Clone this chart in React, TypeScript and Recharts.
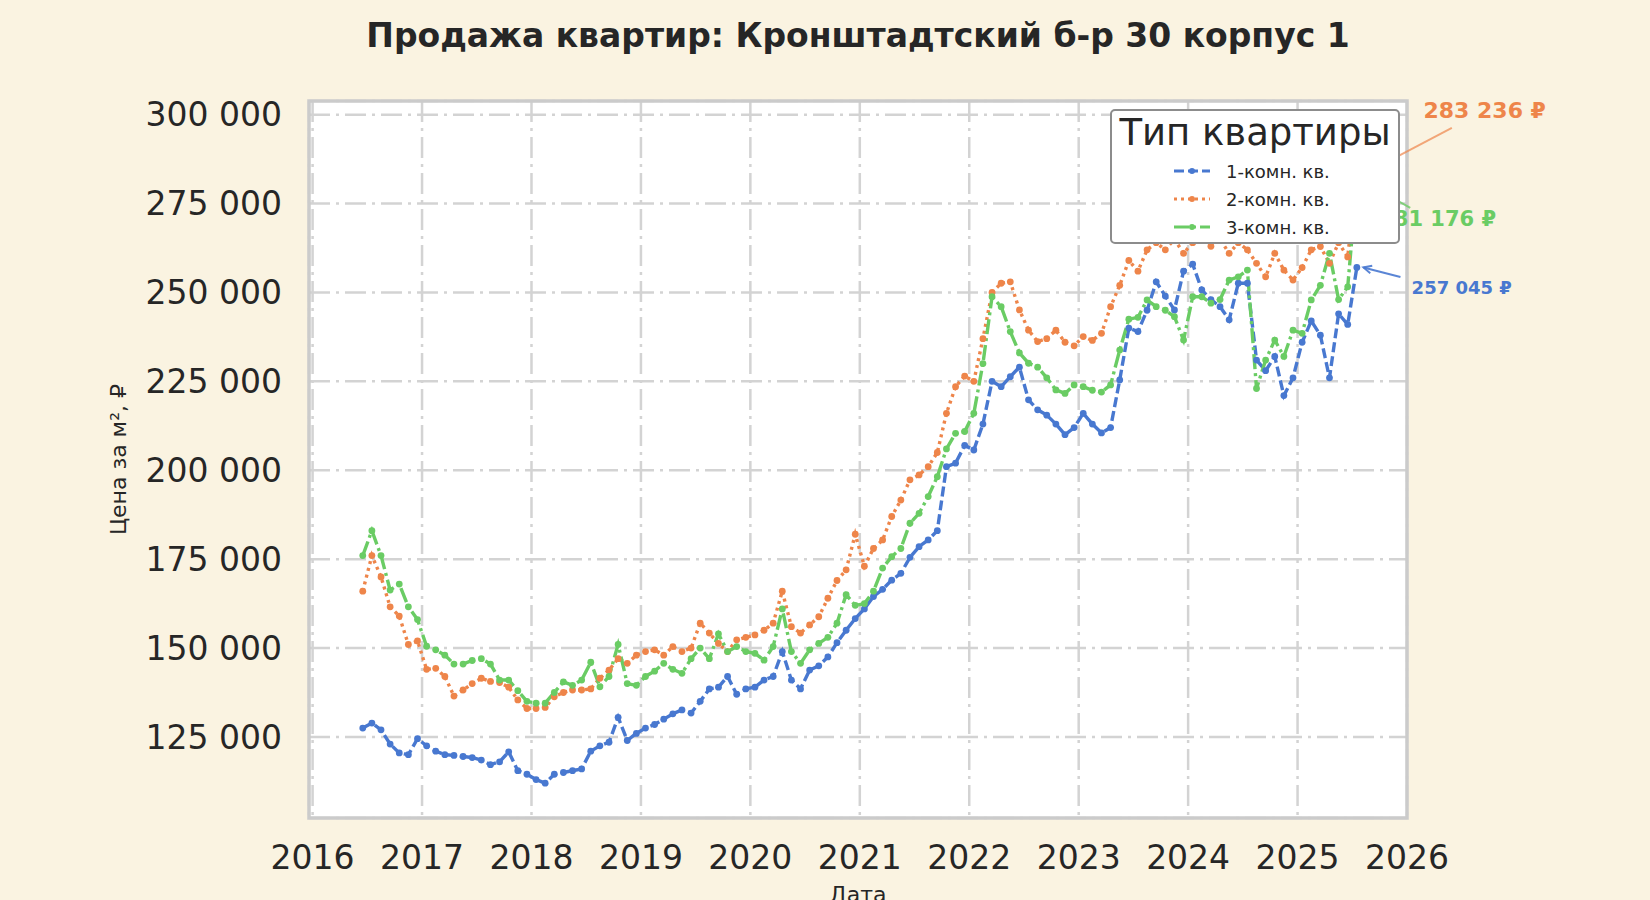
import {
  LineChart,
  Line,
  XAxis,
  YAxis,
  CartesianGrid,
  ReferenceArea,
  ReferenceLine,
  ReferenceDot,
  Label,
} from "recharts";

// monthly prices per m², first value = June 2016
const START_YEAR = 2016;
const START_MONTH = 6;

const oneRoomPrices = [
  127500, 128900, 127000, 123000, 120500, 120000, 124500,
  122500, 121000, 120000, 119800, 119500, 119200, 118500, 117200, 118000, 120800, 115500, 114500,
  113000, 112000, 114500, 115000, 115500, 116000, 121000, 122500, 123500, 130500, 124000, 126000,
  127500, 128500, 130000, 131500, 132600, 131700, 135000, 138500, 139000, 142000, 137000, 138500,
  139000, 141000, 142000, 149000, 141000, 138500, 143800, 145000, 147500, 151500, 155000, 158300,
  161000, 164500, 166500, 169100, 171000, 175500, 178500, 180400, 183000, 201000, 202000, 207000,
  205700, 213000, 225000, 223500, 226300, 229000, 219800, 217000, 215500, 213000, 210000, 212000,
  216000, 213000, 210500, 212000, 225400, 240000, 239000, 245000, 253000, 249000, 245100, 256000,
  258000, 250700, 248000, 246000, 242300, 252600, 252600, 231000, 228000, 232000, 221000, 226000,
  236000, 242000, 238000, 226000, 244000, 241000, 257045,
];

const twoRoomPrices = [
  166000, 176000, 170000, 161600, 159000, 151000, 152000,
  144000, 144300, 142000, 136500, 138200, 140000, 141500, 140600, 140300, 139000, 135400, 133000,
  133000, 133300, 136300, 137500, 138200, 138200, 138500, 141500, 143800, 147000, 145700, 148000,
  149000, 149500, 148000, 150400, 149000, 150000, 157000, 154200, 151300, 149000, 152300, 153000,
  153700, 155000, 157000, 166000, 156000, 154200, 156500, 158800, 164000, 169000, 172000, 182000,
  173000, 178000, 180400, 187000, 191600, 197300, 198700, 201000, 205000, 216000, 223500, 226500,
  225000, 237000, 250000, 252600, 253000, 245100, 239400, 236200, 237000, 239400, 236000, 235000,
  237600, 236500, 238500, 246000, 252000, 259000, 256000, 262000, 264000, 262000, 265000, 261000,
  264000, 266000, 263000, 265000, 261000, 264000, 262000, 258200, 254400, 261000, 256300, 253500,
  257000, 262000, 262900, 258200, 264000, 260000, 283236,
];

const threeRoomPrices = [
  176000, 183000, 176000, 166300, 168000, 161600, 158000,
  150500, 149500, 148000, 145500, 145500, 146500, 147000, 145500, 141000, 141000, 138000, 135000,
  134500, 134500, 137500, 140500, 139500, 141000, 146000, 139100, 142000, 151000, 140000, 139500,
  142000, 143500, 145700, 144000, 142900, 147000, 150000, 147000, 154000, 149000, 150400, 149000,
  148500, 146600, 150400, 161000, 149000, 145700, 149500, 151300, 153000, 157000, 165000, 162000,
  162500, 166000, 172500, 175700, 178000, 185100, 187900, 192600, 198200, 206000, 210400, 210900,
  216000, 230000, 248800, 246000, 239000, 233000, 230100, 229000, 226000, 222600, 221600, 224000,
  223500, 222500, 222000, 224000, 233800, 242500, 243000, 247900, 246000, 245000, 243200, 236600,
  248800, 248800, 247000, 248000, 253500, 254400, 256300, 223000, 231000, 236600, 232000, 239400,
  238500, 247900, 252000, 261000, 248000, 251600, 281176,
];

const yearTicks = [2016, 2017, 2018, 2019, 2020, 2021, 2022, 2023, 2024, 2025, 2026];
const priceTicks = [125000, 150000, 175000, 200000, 225000, 250000, 275000, 300000];

const TITLE = "Продажа квартир: Кронштадтский б-р 30 корпус 1";
const LEGEND_TITLE = "Тип квартиры";

const BLUE = "#4878D0";
const ORANGE = "#EE854A";
const GREEN = "#6ACC64";
const INK = "#262626";
const FONT = "'DejaVu Sans', sans-serif";

const X_DOMAIN: [number, number] = [2015.967, 2026.0];
const Y_DOMAIN: [number, number] = [102200, 303850];

const chartData = oneRoomPrices.map((one, i) => {
  const m = START_MONTH - 1 + i;
  return {
    date: START_YEAR + Math.floor(m / 12) + ((m % 12) + 0.5) / 12,
    one,
    two: twoRoomPrices[i],
    three: threeRoomPrices[i],
  };
});

const last = chartData[chartData.length - 1];

const fmt = (v: number) => String(v).replace(/\B(?=(\d{3})+(?!\d))/g, " ");

const series = [
  { key: "one", name: "1-комн. кв.", color: BLUE, dash: "10 4" },
  { key: "two", name: "2-комн. кв.", color: ORANGE, dash: "3 4" },
  { key: "three", name: "3-комн. кв.", color: GREEN, dash: "15 4 3 4" },
];

// labels for the last value of each series (text position in data units)
const annotations = [
  { key: "two", color: ORANGE, size: 22, text: [2026.71, 301200], from: [2026.41, 296300], opacity: 0.7, arrow: false },
  { key: "three", color: GREEN, size: 21, text: [2026.28, 270700], from: [2026.03, 273800], opacity: 0.8, arrow: false },
  { key: "one", color: BLUE, size: 18, text: [2026.5, 251260], from: [2025.94, 254350], opacity: 0.9, arrow: true },
];

function ArrowShape(props: any) {
  const { x1, y1, x2, y2, stroke, strokeWidth, strokeOpacity } = props;
  const a = Math.atan2(y2 - y1, x2 - x1);
  const len = 9;
  const p1 = [x2 - len * Math.cos(a - 0.45), y2 - len * Math.sin(a - 0.45)];
  const p2 = [x2 - len * Math.cos(a + 0.45), y2 - len * Math.sin(a + 0.45)];
  return (
    <g stroke={stroke} strokeWidth={strokeWidth} strokeOpacity={strokeOpacity} fill="none">
      <line x1={x1} y1={y1} x2={x2} y2={y2} />
      <polyline points={`${p1[0]},${p1[1]} ${x2},${y2} ${p2[0]},${p2[1]}`} />
    </g>
  );
}

function LegendBox() {
  return (
    <div
      style={{
        position: "absolute",
        left: 1110,
        top: 109,
        width: 290,
        height: 135,
        boxSizing: "border-box",
        background: "#FFFFFF",
        border: "2.5px solid #8C8C8C",
        borderRadius: 5,
        fontFamily: FONT,
        color: INK,
      }}
    >
      <div
        style={{
          position: "absolute",
          left: 0,
          right: 0,
          top: 0,
          textAlign: "center",
          fontSize: 37,
          lineHeight: "44px",
        }}
      >
        {LEGEND_TITLE}
      </div>
      {series.map((s, i) => (
        <div
          key={s.key}
          style={{
            position: "absolute",
            left: 60,
            top: 46 + i * 28,
            height: 28,
            display: "flex",
            alignItems: "center",
            fontSize: 18,
          }}
        >
          <svg width={40} height={12} style={{ marginRight: 14 }}>
            <line
              x1={2}
              y1={6}
              x2={38}
              y2={6}
              stroke={s.color}
              strokeWidth={3}
              strokeDasharray={s.dash}
            />
            <circle cx={20} cy={6} r={3} fill={s.color} />
          </svg>
          <span>{s.name}</span>
        </div>
      ))}
    </div>
  );
}

export default function App() {
  return (
    <div
      style={{
        position: "absolute",
        left: 0,
        top: 0,
        width: 1650,
        height: 900,
        background: "#FAF3E1",
        fontFamily: FONT,
        overflow: "hidden",
      }}
    >
      <div
        style={{
          position: "absolute",
          left: 309,
          width: 1098,
          top: 14,
          textAlign: "center",
          fontSize: 33,
          fontWeight: "bold",
          color: INK,
          lineHeight: "44px",
        }}
      >
        {TITLE}
      </div>

      <LineChart
        width={1650}
        height={900}
        data={chartData}
        margin={{ top: 101, right: 243, bottom: 0, left: 0 }}
      >
        <CartesianGrid
          stroke="#D3D3D3"
          strokeWidth={2.5}
          strokeDasharray="21 6 3 6"
          fill="#FFFFFF"
        />
        <XAxis
          dataKey="date"
          type="number"
          domain={X_DOMAIN}
          ticks={yearTicks}
          allowDataOverflow
          height={82}
          axisLine={false}
          tickLine={false}
          tickSize={0}
          tickMargin={28}
          tick={{ fontSize: 33, fill: INK }}
        >
          <Label
            value="Дата"
            position="insideBottom"
            offset={-2}
            style={{ fontSize: 22, fill: INK }}
          />
        </XAxis>
        <YAxis
          type="number"
          domain={Y_DOMAIN}
          ticks={priceTicks}
          allowDataOverflow
          width={309}
          axisLine={false}
          tickLine={false}
          tickSize={0}
          tickMargin={27}
          tickFormatter={fmt}
          tick={{ fontSize: 33, fill: INK }}
        >
          <Label
            value="Цена за м², ₽"
            angle={-90}
            position="center"
            dx={-36}
            style={{ fontSize: 22, fill: INK, textAnchor: "middle" }}
          />
        </YAxis>

        {series.map((s) => (
          <Line
            key={s.key}
            dataKey={s.key}
            name={s.name}
            type="linear"
            stroke={s.color}
            strokeWidth={3.4}
            strokeDasharray={s.dash}
            dot={{ r: 3.4, fill: s.color, strokeWidth: 0 }}
            activeDot={false}
            isAnimationActive={false}
          />
        ))}

        <ReferenceArea
          x1={X_DOMAIN[0]}
          x2={X_DOMAIN[1]}
          y1={Y_DOMAIN[0]}
          y2={Y_DOMAIN[1]}
          fill="none"
          stroke="#CBCBCB"
          strokeWidth={3.5}
          ifOverflow="visible"
        />

        {annotations.map((a) => {
          const v = (last as any)[a.key] as number;
          return (
            <ReferenceLine
              key={`l-${a.key}`}
              ifOverflow="visible"
              segment={[
                { x: a.from[0], y: a.from[1] },
                { x: last.date + 0.06, y: v },
              ]}
              stroke={a.color}
              strokeWidth={2}
              strokeOpacity={a.opacity}
              shape={a.arrow ? ArrowShape : undefined}
            />
          );
        })}
        {annotations.map((a) => {
          const v = (last as any)[a.key] as number;
          return (
            <ReferenceDot
              key={`t-${a.key}`}
              x={a.text[0]}
              y={a.text[1]}
              r={0}
              ifOverflow="visible"
              label={{
                value: `${fmt(v)} ₽`,
                position: "center",
                fill: a.color,
                fontSize: a.size,
                fontWeight: "bold",
              }}
            />
          );
        })}
      </LineChart>

      <LegendBox />
    </div>
  );
}
